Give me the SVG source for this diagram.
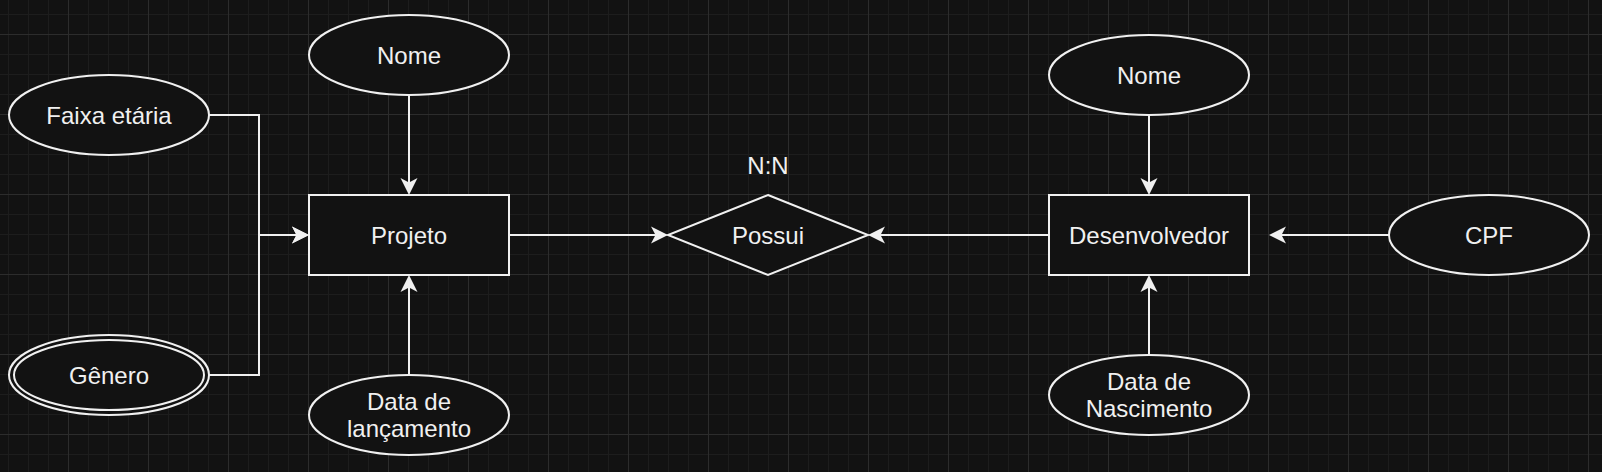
<svg xmlns="http://www.w3.org/2000/svg" width="1602" height="472" viewBox="0 0 1602 472">
  <defs>
    <pattern id="grid" patternUnits="userSpaceOnUse" x="68" y="34" width="80" height="80">
      <rect x="20" y="0" width="1" height="80" fill="#1d1d1d"/>
      <rect x="40" y="0" width="1" height="80" fill="#1d1d1d"/>
      <rect x="60" y="0" width="1" height="80" fill="#1d1d1d"/>
      <rect x="0" y="20" width="80" height="1" fill="#1d1d1d"/>
      <rect x="0" y="40" width="80" height="1" fill="#1d1d1d"/>
      <rect x="0" y="60" width="80" height="1" fill="#1d1d1d"/>
      <rect x="0" y="0" width="1" height="80" fill="#2c2c2c"/>
      <rect x="0" y="0" width="80" height="1" fill="#2c2c2c"/>
    </pattern>
    <marker id="arrow" viewBox="-10 -10 20 20" refX="0" refY="0" markerWidth="20" markerHeight="20" markerUnits="userSpaceOnUse" orient="auto">
      <path d="M8,0 L-9,-8.5 L-4.5,0 L-9,8.5 Z" fill="#f0f0f0" stroke="none"/>
    </marker>
    <style>
      .shape { fill: #121212; stroke: #f0f0f0; stroke-width: 2; }
      .edge { fill: none; stroke: #f0f0f0; stroke-width: 2; marker-end: url(#arrow); }
      .label { font-family: "Liberation Sans", Arial, sans-serif; font-size: 24px; fill: #f0f0f0; text-anchor: middle; }
    </style>
  </defs>
  <rect x="0" y="0" width="1602" height="472" fill="#121212"/>
  <rect x="0" y="0" width="1602" height="472" fill="url(#grid)"/>

  <g id="connectors">
    <path class="edge" d="M209,115 H259 V235 H301"/>
    <path class="edge" d="M209,375 H259 V235 H301"/>
    <path class="edge" d="M409,95 V187"/>
    <path class="edge" d="M409,375 V283"/>
    <path class="edge" d="M509,235 H660"/>
    <path class="edge" d="M1049,235 H876"/>
    <path class="edge" d="M1149,115 V187"/>
    <path class="edge" d="M1149,355 V283"/>
    <path class="edge" d="M1389,235 H1277"/>
  </g>

  <g id="faixa-etaria">
    <ellipse class="shape" cx="109" cy="115" rx="100" ry="40"/>
    <text class="label" x="109" y="123.5">Faixa etária</text>
  </g>
  <g id="genero">
    <ellipse class="shape" cx="109" cy="375" rx="100" ry="40"/>
    <ellipse class="shape" cx="109" cy="375" rx="95" ry="35"/>
    <text class="label" x="109" y="383.5">Gênero</text>
  </g>
  <g id="nome-projeto">
    <ellipse class="shape" cx="409" cy="55" rx="100" ry="40"/>
    <text class="label" x="409" y="63.5">Nome</text>
  </g>
  <g id="projeto">
    <rect class="shape" x="309" y="195" width="200" height="80"/>
    <text class="label" x="409" y="243.5">Projeto</text>
  </g>
  <g id="data-lancamento">
    <ellipse class="shape" cx="409" cy="415" rx="100" ry="40"/>
    <text class="label" x="409" y="409.7">Data de</text>
    <text class="label" x="409" y="437.3">lançamento</text>
  </g>
  <g id="possui">
    <polygon class="shape" points="768,195 868,235 768,275 668,235"/>
    <text class="label" x="768" y="243.5">Possui</text>
  </g>
  <g id="cardinalidade">
    <text class="label" x="768" y="173.5">N:N</text>
  </g>
  <g id="nome-dev">
    <ellipse class="shape" cx="1149" cy="75" rx="100" ry="40"/>
    <text class="label" x="1149" y="83.5">Nome</text>
  </g>
  <g id="desenvolvedor">
    <rect class="shape" x="1049" y="195" width="200" height="80"/>
    <text class="label" x="1149" y="243.5">Desenvolvedor</text>
  </g>
  <g id="data-nascimento">
    <ellipse class="shape" cx="1149" cy="395" rx="100" ry="40"/>
    <text class="label" x="1149" y="389.7">Data de</text>
    <text class="label" x="1149" y="417.3">Nascimento</text>
  </g>
  <g id="cpf">
    <ellipse class="shape" cx="1489" cy="235" rx="100" ry="40"/>
    <text class="label" x="1489" y="243.5">CPF</text>
  </g>
</svg>
